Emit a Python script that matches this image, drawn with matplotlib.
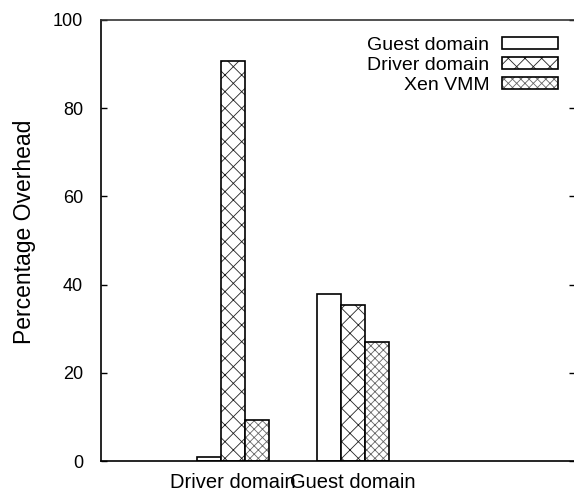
import numpy as np
import matplotlib
matplotlib.use('Agg')
import matplotlib.pyplot as plt
import matplotlib.transforms as mtransforms
from matplotlib.patches import Patch

categories = ['Driver domain', 'Guest domain']
series_names = ['Guest domain', 'Driver domain', 'Xen VMM']
guest_vals = [0.9, 37.9]
driver_vals = [90.8, 35.4]
xen_vals = [9.3, 27.0]
yticks = [0, 20, 40, 60, 80, 100]

plt.rcParams['font.family'] = ['Liberation Sans', 'DejaVu Sans']
plt.rcParams['hatch.linewidth'] = 0.6

fig = plt.figure(figsize=(5.74, 4.96), dpi=100)
ax = fig.add_axes([101 / 574, 35 / 496, 474 / 574, 441 / 496])

x = np.arange(len(categories))
w = 0.2
styles = [('', 'black'), ('xx', '#222222'), ('xxxx', '#666666')]
handles = []
for i, (vals, name) in enumerate(zip([guest_vals, driver_vals, xen_vals], series_names)):
    hatch, hcol = styles[i]
    pos = x + (i - 1) * w
    if hatch:
        ax.bar(pos, vals, w, color='white', edgecolor=hcol, hatch=hatch, linewidth=0)
    ax.bar(pos, vals, w, color='none', edgecolor='black', linewidth=1.2)
    handles.append((Patch(facecolor='white', edgecolor=hcol, hatch=hatch, linewidth=0),
                    Patch(facecolor='none', edgecolor='black', linewidth=1.2)))

ax.set_xlim(-1.1, 2.85)
ax.set_ylim(0, 100)
ax.set_yticks(yticks)
ax.set_xticks(x)
ax.set_xticklabels(categories, fontsize=14.5)
off = mtransforms.ScaledTranslation(-9 / 100, 0, fig.dpi_scale_trans)
for lab in ax.get_xticklabels():
    lab.set_transform(lab.get_transform() + off)
ax.tick_params(axis='x', length=0, pad=9)
ax.tick_params(axis='y', direction='in', length=4, width=1, labelsize=13, pad=13,
               right=True)
ax.spines['right'].set_visible(False)
for s in ['left', 'bottom', 'top']:
    ax.spines[s].set_linewidth(1.2)
ax.spines['top'].set_color('#333333')

ax.set_ylabel('Percentage Overhead', fontsize=16.5)
ax.yaxis.set_label_coords(-0.138, 0.52)

ax.legend(handles, series_names, loc='upper right', bbox_to_anchor=(0.985, 0.984),
          frameon=False, markerfirst=False, fontsize=14, handlelength=2.9,
          handleheight=0.6, handletextpad=0.65, labelspacing=0.15, borderpad=0)

fig.savefig('out.png', dpi=100)
